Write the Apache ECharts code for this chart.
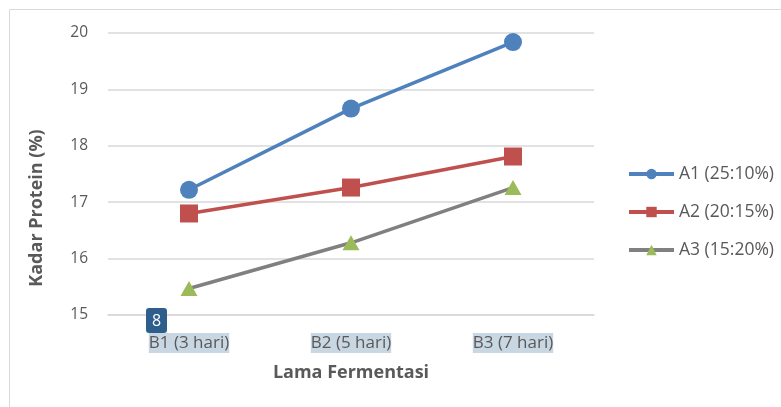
<!DOCTYPE html>
<html>
<head>
<meta charset="utf-8">
<script src="https://cdn.jsdelivr.net/npm/echarts@6/dist/echarts.min.js"></script>
<style>
  html, body { margin: 0; padding: 0; background: #fff; }
  #chart { width: 781px; height: 407px; }
</style>
</head>
<body>
<div id="chart"></div>
<script>
// data
const categories = ['B1 (3 hari)', 'B2 (5 hari)', 'B3 (7 hari)']
const seriesNames = ['A1 (25:10%)', 'A2 (20:15%)', 'A3 (15:20%)']
const a1 = [17.22, 18.66, 19.84]
const a2 = [16.80, 17.26, 17.81]
const a3 = [15.47, 16.28, 17.26]

const font = '"Open Sans", Lato, sans-serif'
const textColor = '#595959'

const chart = echarts.init(document.getElementById('chart'))

const option = {
  backgroundColor: '#fff',
  animation: false,
  grid: { left: 108, right: 187, top: 33, bottom: 92 },
  legend: {
    orient: 'vertical',
    left: 627,
    top: 165,
    padding: 0,
    itemWidth: 45,
    itemHeight: 13,
    itemGap: 20,
    lineStyle: { width: 4 },
    textStyle: { color: textColor, fontSize: 17.5, lineHeight: 17, fontFamily: font },
    data: seriesNames
  },
  xAxis: {
    type: 'category',
    data: categories,
    boundaryGap: true,
    axisLine: { lineStyle: { color: '#d9d9d9', width: 1.5 } },
    axisTick: { show: false },
    axisLabel: {
      color: textColor,
      fontSize: 17,
      fontFamily: font,
      margin: 18,
      lineHeight: 20,
      backgroundColor: '#c9d7e3',
      padding: 0
    },
    name: 'Lama Fermentasi',
    nameLocation: 'middle',
    nameGap: 49,
    nameTextStyle: { color: textColor, fontSize: 18, fontWeight: 'bold', fontFamily: font }
  },
  yAxis: {
    type: 'value',
    min: 15,
    max: 20,
    interval: 1,
    axisLine: { show: false },
    axisTick: { show: false },
    axisLabel: { color: textColor, fontSize: 15.5, fontFamily: font, margin: 20 },
    splitLine: { lineStyle: { color: '#d9d9d9', width: 1.5 } }
  },
  graphic: [
    {
      type: 'rect',
      shape: { x: 9.5, y: 9.5, width: 800, height: 420 },
      style: { fill: 'none', stroke: '#d9d9d9', lineWidth: 1 },
      silent: true
    },
    {
      type: 'text',
      x: 37,
      y: 208,
      rotation: Math.PI / 2,
      style: {
        text: 'Kadar Protein (%)',
        fill: textColor,
        font: 'bold 18px ' + font,
        align: 'center',
        verticalAlign: 'middle'
      }
    },
    {
      type: 'rect',
      shape: { x: 146, y: 308, width: 21, height: 25, r: 3 },
      style: { fill: '#2e5f8c' },
      z: 100
    },
    {
      type: 'text',
      x: 156.5,
      y: 321,
      z: 101,
      style: {
        text: '8',
        fill: '#fff',
        font: '16px ' + font,
        align: 'center',
        verticalAlign: 'middle'
      }
    }
  ],
  series: [
    {
      name: seriesNames[0],
      type: 'line',
      data: a1,
      symbol: 'circle',
      symbolSize: 18,
      lineStyle: { color: '#4f81bd', width: 3.5 },
      itemStyle: { color: '#4f81bd' }
    },
    {
      name: seriesNames[1],
      type: 'line',
      data: a2,
      symbol: 'rect',
      symbolSize: 18,
      lineStyle: { color: '#c0504d', width: 3.5 },
      itemStyle: { color: '#c0504d' }
    },
    {
      name: seriesNames[2],
      type: 'line',
      data: a3,
      symbol: 'triangle',
      symbolSize: [17, 15],
      lineStyle: { color: '#808080', width: 3.5 },
      itemStyle: { color: '#9bbb59' }
    }
  ]
}

chart.setOption(option)
</script>
</body>
</html>
